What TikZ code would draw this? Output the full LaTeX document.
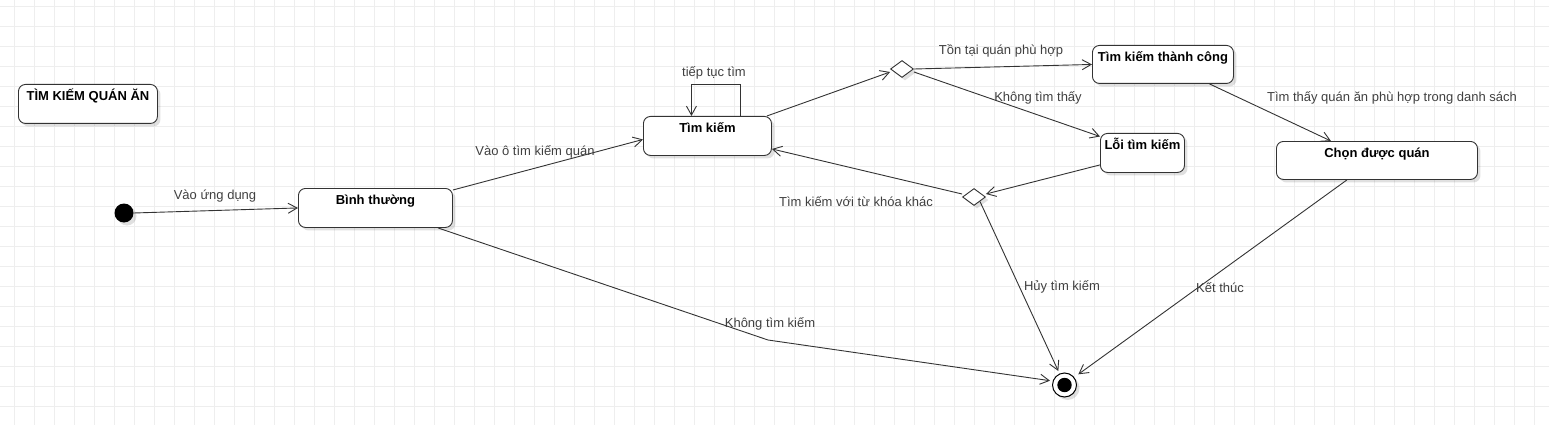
\documentclass[tikz,border=0pt]{standalone}
\usepackage{fontspec}
\setmainfont{Liberation Sans}
\usetikzlibrary{arrows.meta,shapes.geometric,shadows,calc}
\definecolor{gridc}{HTML}{EEEEEE}
\definecolor{linec}{HTML}{333333}
\definecolor{labc}{HTML}{404040}
\begin{document}
\begin{tikzpicture}[x=1pt,y=-1pt,
  font=\fontsize{13}{15}\selectfont,
  shad/.style={drop shadow={shadow xshift=3pt,shadow yshift=-3pt,opacity=0.12,fill=black}},
  stbox/.style={draw=linec, line width=0.9pt, rounded corners=7pt, fill=white, shad,
    inner sep=0pt, text height=16.5pt, text depth=22.5pt, anchor=north west,
    font=\fontsize{13}{15}\selectfont\bfseries, text=black},
  lab/.style={text=labc, inner sep=0pt},
  conn/.style={draw=linec, line width=0.9pt, -{Straight Barb[length=9pt,width=10pt]}},
  dec/.style={diamond, draw=linec, line width=0.9pt, fill=white, shad,
    minimum width=23pt, minimum height=17pt, inner sep=0pt, aspect=1.35},
]
\useasboundingbox (0,0) rectangle (1549,425);
\fill[white] (0,0) rectangle (1549,425);
% grid
\foreach \i in {0,...,76} { \draw[gridc, line width=0.9pt] (14+20*\i,0) -- (14+20*\i,425); }
\foreach \j in {0,...,20} { \draw[gridc, line width=0.9pt] (0,6+20*\j) -- (1549,6+20*\j); }

% states
\node[stbox, minimum width=139pt] (title) at (18,84) {TÌM KIẾM QUÁN ĂN};
\node[stbox, minimum width=154pt] (binh) at (298,188) {Bình thường};
\node[stbox, minimum width=128pt] (tk) at (643,116) {Tìm kiếm};
\node[stbox, minimum width=141pt, text depth=21.5pt] (tc) at (1092,45) {Tìm kiếm thành công};
\node[stbox, minimum width=84pt] (loi) at (1100,133) {Lỗi tìm kiếm};
\node[stbox, minimum width=201pt, text depth=21.5pt] (chon) at (1276,141) {Chọn được quán};

% pseudo states
\node[circle, fill=black, minimum size=19pt, inner sep=0pt, shad] (init) at (124,213) {};
\node[circle, draw=black, line width=1pt, fill=white, minimum size=24pt, inner sep=0pt, shad] (endn) at (1064.5,385) {};
\node[circle, fill=black, minimum size=14.4pt, inner sep=0pt] (endin) at (endn.center) {};
\node[dec] (d1) at (902,69) {};
\node[dec] (d2) at (974,197) {};

% transitions
\coordinate (k) at (768,340);
\draw[conn] (init.east) -- (binh.west);
\draw[conn] ([yshift=-2pt]binh.north east) -- ([yshift=-3.5pt]tk.west);
\draw[conn] ([xshift=33pt]tk.north) -- ++(0,-32) -| ([xshift=-16pt]tk.north);
\draw[conn] ([xshift=-5pt]tk.north east) -- ([yshift=-3pt]d1.west);
\draw[conn] (d1.east) -- (tc.west);
\draw[conn] ([yshift=-3pt]d1.east) -- ([yshift=-3.5pt]loi.north west);
\draw[conn] ([yshift=8pt]loi.south west) -- ([yshift=3pt]d2.east);
\draw[conn] ([yshift=3pt]d2.west) -- ([yshift=-13pt]tk.east);
\draw[conn] (d2.south east) -- ([shift={(-6.2pt,14pt)}]endn.center);
\draw[conn] ([xshift=46.5pt]tc.south) -- ([xshift=-46pt]chon.north);
\draw[conn] ([xshift=-30pt]chon.south) -- ([shift={(13.8pt,10.7pt)}]endn.center);
\draw[conn] ([xshift=-15pt]binh.south east) -- (k) -- ([shift={(-14.5pt,4.3pt)}]endn.center);

% labels
\node[lab] (l1) at (215,196) {Vào ứng dụng};
\node[lab] (l2) at (535,152) {Vào ô tìm kiếm quán};
\node[lab] (l3) at (714,73) {tiếp tục tìm};
\node[lab] (l4) at (1001,51) {Tồn tại quán phù hợp};
\node[lab] (l5) at (1038,98) {Không tìm thấy};
\node[lab] (l6) at (856,202) {Tìm kiếm với từ khóa khác};
\node[lab] (l7) at (1062,287) {Hủy tìm kiếm};
\node[lab] (l8) at (1220,288) {Kết thúc};
\node[lab] (l9) at (770,324) {Không tìm kiếm};
\node[lab] (l10) at (1392,98) {Tìm thấy quán ăn phù hợp trong danh sách};
\end{tikzpicture}
\end{document}
